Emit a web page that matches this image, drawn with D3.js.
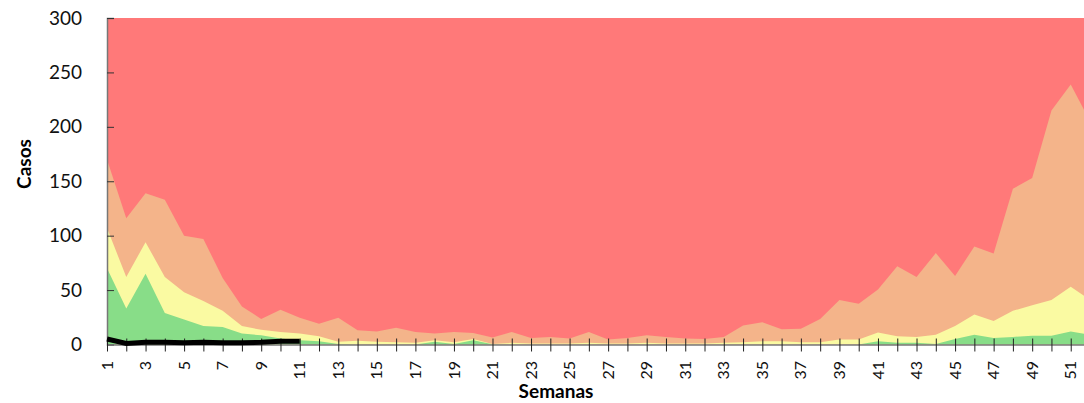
<!DOCTYPE html>
<html>
<head>
<meta charset="utf-8">
<script src="https://cdn.jsdelivr.net/npm/d3@7"></script>
<style>
  body { margin: 0; background: #fff; }
  svg { display: block; font-family: Lato, "Open Sans", sans-serif; }
</style>
</head>
<body>
<svg id="chart"></svg>
<script>
// semanas epidemiologicas
var weeks = [1,2,3,4,5,6,7,8,9,10,11,12,13,14,15,16,17,18,19,20,21,22,23,24,25,26,
             27,28,29,30,31,32,33,34,35,36,37,38,39,40,41,42,43,44,45,46,47,48,49,50,51,52];

// zona de exito (verde)
var exito = [70,33,65,29,23,17,16,10,8.5,5.5,4,3,0.5,0,0,0,0,2.5,0.5,4,0.3,0,0,0,0,0,
             0,0,0,0,0,0,0,0,0,0,0,0,0,0,3,1.5,1.5,0.5,5,9,6,7,8,8,12,9];
// zona de seguridad (amarillo)
var seguridad = [107,62,94,62,48,40,31,17,13.5,11.5,10,7.5,2.5,3.5,2.5,2,1.5,4,2,5,0.5,1.5,1,1,1,1.5,
                 1,1,1.5,1,1,1,1.5,2,3,3,2,2,4.5,4.5,11,7.5,7,9,17,27.5,21.5,31,36,41,53,41];
// zona de alerta (durazno)
var alerta = [170,116,139,133,100,97,61,35,23.5,32,24.5,19,24.5,13,12,15.5,11.5,10,11.5,10.5,6.5,11.5,6,7,5.5,11.5,
              4.5,6,8.5,7,5.5,5,7,17.5,20.5,14,14.5,23.5,41,37.5,50.5,72,62,84,63,90,83.5,143,153,215,239,205];
// casos año actual
var casosWeeks = [1,2,3,4,5,6,7,8,9,10,11];
var casos = [5,1,2,2,1.5,2,1.5,1.5,2,3,3];

var yTicks = [0,50,100,150,200,250,300];
var xLabels = [1,3,5,7,9,11,13,15,17,19,21,23,25,27,29,31,33,35,37,39,41,43,45,47,49,51];
var yMax = 300;

var dimensions = {
    width: 1084,
    height: 403,
    margin: { top: 18, left: 107, bottom: 58.5 }
}

var svg = d3.select("#chart")
    .attr("width", dimensions.width)
    .attr("height", dimensions.height);

var xScale = d3.scaleLinear()
    .domain([1, 52])
    .range([dimensions.margin.left, 1090]);

var yScale = d3.scaleLinear()
    .domain([0, yMax])
    .range([dimensions.height - dimensions.margin.bottom, dimensions.margin.top]);

var plot = svg.append("g");

// zona de epidemia: desde 0 hasta el tope del eje
plot.append("path")
    .datum(weeks)
    .attr("fill", "#ff7979")
    .attr("d", d3.area()
        .x(d => xScale(d))
        .y0(yScale(0))
        .y1(yScale(yMax)));

var zones = [
    { values: alerta, color: "#f4b48a" },
    { values: seguridad, color: "#fafaa2" },
    { values: exito, color: "#88dd88" }
];

zones.forEach(function(z) {
    plot.append("path")
        .datum(weeks)
        .attr("fill", z.color)
        .attr("d", d3.area()
            .x(d => xScale(d))
            .y0(yScale(0))
            .y1((d, i) => yScale(z.values[i])));
});

// y axis
var yAxis = svg.append("g")
    .attr("transform", `translate(${dimensions.margin.left},0)`)
    .call(d3.axisRight(yScale).tickValues(yTicks).tickSize(7).tickFormat(""));
yAxis.select(".domain").attr("stroke", "#777").attr("stroke-width", 1.5);
yAxis.selectAll(".tick line").attr("stroke", "#333");

svg.append("g")
    .selectAll("text")
    .data(yTicks)
    .enter()
    .append("text")
    .attr("x", 82)
    .attr("y", d => yScale(d))
    .attr("dy", "0.35em")
    .style("text-anchor", "end")
    .style("font-size", "19px")
    .style("fill", "#111")
    .text(d => d);

// x axis
var x0 = yScale(0);
var xAxis = svg.append("g")
    .attr("transform", `translate(0,${x0})`)
    .call(d3.axisBottom(xScale).tickValues(weeks).tickSizeInner(7).tickSizeOuter(0).tickFormat(""));
xAxis.select(".domain").attr("stroke", "#777").attr("stroke-width", 1.5);
xAxis.selectAll(".tick line").attr("y1", -6).attr("stroke", "#222");

svg.append("g")
    .selectAll("text")
    .data(xLabels)
    .enter()
    .append("text")
    .attr("transform", d => `translate(${xScale(d)},361) rotate(-90)`)
    .attr("dy", "0.35em")
    .style("text-anchor", "end")
    .style("font-size", "16px")
    .style("fill", "#111")
    .text(d => d);

// casos actuales
svg.append("path")
    .datum(casosWeeks)
    .attr("fill", "none")
    .attr("stroke", "#000")
    .attr("stroke-width", 5)
    .attr("d", d3.line()
        .x(d => xScale(d))
        .y((d, i) => yScale(casos[i])));

// titulos
svg.append("text")
    .attr("transform", "translate(24,164) rotate(-90)")
    .attr("dy", "0.35em")
    .style("text-anchor", "middle")
    .style("font-size", "19px")
    .style("font-weight", "bold")
    .text("Casos");

svg.append("text")
    .attr("x", 556)
    .attr("y", 398)
    .style("text-anchor", "middle")
    .style("font-size", "19px")
    .style("font-weight", "bold")
    .text("Semanas");
</script>
</body>
</html>
